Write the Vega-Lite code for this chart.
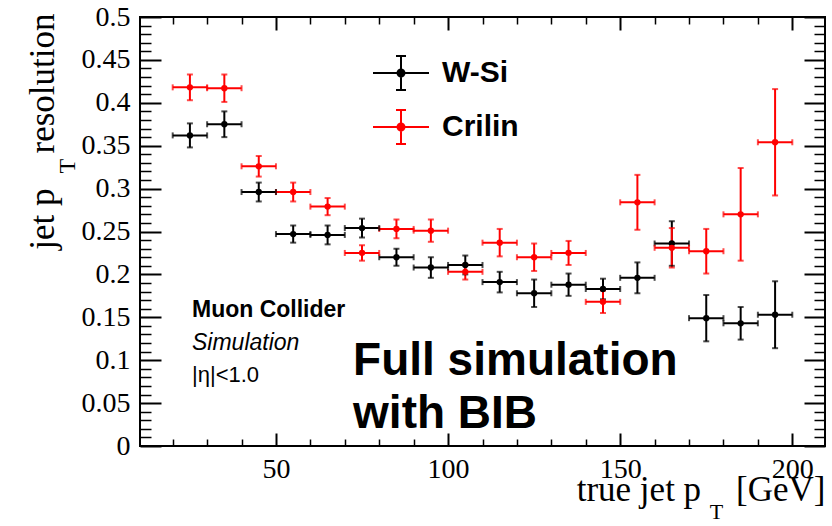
{
  "$schema": "https://vega.github.io/schema/vega-lite/v6.json",
  "width": 685,
  "height": 429,
  "autosize": {"type": "none"},
  "padding": {"left": 140, "top": 17, "right": 7, "bottom": 80},
  "background": "white",
  "config": {
    "view": {"stroke": "#000", "strokeWidth": 2},
    "axis": {"domain": false, "grid": false, "tickColor": "#000", "tickWidth": 1.5, "labelColor": "#000", "titleColor": "#000", "labelFont": "Liberation Serif", "titleFont": "Liberation Serif", "labelFontSize": 28, "titleFontSize": 35, "titleFontWeight": "normal"}
  },
  "data": {"values": [
    {"s": "W-Si", "pt": 25, "ptlo": 20, "pthi": 30, "res": 0.362, "lo": 0.348, "hi": 0.376},
    {"s": "W-Si", "pt": 35, "ptlo": 30, "pthi": 40, "res": 0.375, "lo": 0.360, "hi": 0.390},
    {"s": "W-Si", "pt": 45, "ptlo": 40, "pthi": 50, "res": 0.296, "lo": 0.285, "hi": 0.307},
    {"s": "W-Si", "pt": 55, "ptlo": 50, "pthi": 60, "res": 0.247, "lo": 0.237, "hi": 0.257},
    {"s": "W-Si", "pt": 65, "ptlo": 60, "pthi": 70, "res": 0.246, "lo": 0.235, "hi": 0.257},
    {"s": "W-Si", "pt": 75, "ptlo": 70, "pthi": 80, "res": 0.254, "lo": 0.243, "hi": 0.265},
    {"s": "W-Si", "pt": 85, "ptlo": 80, "pthi": 90, "res": 0.220, "lo": 0.210, "hi": 0.230},
    {"s": "W-Si", "pt": 95, "ptlo": 90, "pthi": 100, "res": 0.208, "lo": 0.196, "hi": 0.220},
    {"s": "W-Si", "pt": 105, "ptlo": 100, "pthi": 110, "res": 0.211, "lo": 0.200, "hi": 0.222},
    {"s": "W-Si", "pt": 115, "ptlo": 110, "pthi": 120, "res": 0.191, "lo": 0.179, "hi": 0.203},
    {"s": "W-Si", "pt": 125, "ptlo": 120, "pthi": 130, "res": 0.178, "lo": 0.162, "hi": 0.194},
    {"s": "W-Si", "pt": 135, "ptlo": 130, "pthi": 140, "res": 0.188, "lo": 0.175, "hi": 0.201},
    {"s": "W-Si", "pt": 145, "ptlo": 140, "pthi": 150, "res": 0.183, "lo": 0.171, "hi": 0.195},
    {"s": "W-Si", "pt": 155, "ptlo": 150, "pthi": 160, "res": 0.196, "lo": 0.178, "hi": 0.214},
    {"s": "W-Si", "pt": 165, "ptlo": 160, "pthi": 170, "res": 0.236, "lo": 0.210, "hi": 0.262},
    {"s": "W-Si", "pt": 175, "ptlo": 170, "pthi": 180, "res": 0.149, "lo": 0.122, "hi": 0.176},
    {"s": "W-Si", "pt": 185, "ptlo": 180, "pthi": 190, "res": 0.143, "lo": 0.124, "hi": 0.162},
    {"s": "W-Si", "pt": 195, "ptlo": 190, "pthi": 200, "res": 0.153, "lo": 0.114, "hi": 0.192},
    {"s": "Crilin", "pt": 25, "ptlo": 20, "pthi": 30, "res": 0.418, "lo": 0.403, "hi": 0.433},
    {"s": "Crilin", "pt": 35, "ptlo": 30, "pthi": 40, "res": 0.417, "lo": 0.401, "hi": 0.433},
    {"s": "Crilin", "pt": 45, "ptlo": 40, "pthi": 50, "res": 0.326, "lo": 0.314, "hi": 0.338},
    {"s": "Crilin", "pt": 55, "ptlo": 50, "pthi": 60, "res": 0.296, "lo": 0.285, "hi": 0.307},
    {"s": "Crilin", "pt": 65, "ptlo": 60, "pthi": 70, "res": 0.279, "lo": 0.269, "hi": 0.289},
    {"s": "Crilin", "pt": 75, "ptlo": 70, "pthi": 80, "res": 0.225, "lo": 0.216, "hi": 0.234},
    {"s": "Crilin", "pt": 85, "ptlo": 80, "pthi": 90, "res": 0.253, "lo": 0.242, "hi": 0.264},
    {"s": "Crilin", "pt": 95, "ptlo": 90, "pthi": 100, "res": 0.251, "lo": 0.238, "hi": 0.264},
    {"s": "Crilin", "pt": 105, "ptlo": 100, "pthi": 110, "res": 0.203, "lo": 0.194, "hi": 0.212},
    {"s": "Crilin", "pt": 115, "ptlo": 110, "pthi": 120, "res": 0.237, "lo": 0.221, "hi": 0.253},
    {"s": "Crilin", "pt": 125, "ptlo": 120, "pthi": 130, "res": 0.220, "lo": 0.204, "hi": 0.236},
    {"s": "Crilin", "pt": 135, "ptlo": 130, "pthi": 140, "res": 0.225, "lo": 0.211, "hi": 0.239},
    {"s": "Crilin", "pt": 145, "ptlo": 140, "pthi": 150, "res": 0.168, "lo": 0.155, "hi": 0.181},
    {"s": "Crilin", "pt": 155, "ptlo": 150, "pthi": 160, "res": 0.284, "lo": 0.252, "hi": 0.316},
    {"s": "Crilin", "pt": 165, "ptlo": 160, "pthi": 170, "res": 0.231, "lo": 0.208, "hi": 0.254},
    {"s": "Crilin", "pt": 175, "ptlo": 170, "pthi": 180, "res": 0.227, "lo": 0.201, "hi": 0.253},
    {"s": "Crilin", "pt": 185, "ptlo": 180, "pthi": 190, "res": 0.270, "lo": 0.216, "hi": 0.324},
    {"s": "Crilin", "pt": 195, "ptlo": 190, "pthi": 200, "res": 0.354, "lo": 0.292, "hi": 0.416}
  ]},
  "resolve": {"scale": {"x": "shared", "y": "shared", "color": "shared"}, "axis": {"x": "independent", "y": "independent"}, "legend": {"color": "shared"}},
  "layer": [
    {
      "mark": {"type": "rule", "strokeWidth": 2},
      "encoding": {
        "x": {"field": "ptlo", "type": "quantitative", "scale": {"domain": [10.5, 209.5], "nice": false, "zero": false},
          "axis": {"orient": "bottom", "values": [50, 100, 150, 200], "tickSize": -13, "tickWidth": 2, "labelPadding": 22, "labelFlush": false, "labelOverlap": false,
            "title": "true jet p\u00a0\u00a0\u00a0\u00a0[GeV]", "titleAnchor": null, "titleAlign": "right", "titleBaseline": "alphabetic", "titleX": 685, "titleY": 54}},
        "x2": {"field": "pthi"},
        "y": {"field": "res", "type": "quantitative", "scale": {"domain": [0, 0.5], "nice": false, "zero": false},
          "axis": {"orient": "left", "values": [0, 0.05, 0.1, 0.15, 0.2, 0.25, 0.3, 0.35, 0.4, 0.45, 0.5], "format": "~g", "tickSize": -21, "tickWidth": 2, "labelPadding": 31, "labelFlush": false, "labelOverlap": false,
            "title": "jet p\u00a0\u00a0\u00a0\u00a0resolution", "titleAnchor": null, "titleAngle": 270, "titleAlign": "right", "titleBaseline": "alphabetic", "titleX": -87, "titleY": -4}},
        "color": {"field": "s", "type": "nominal", "scale": {"domain": ["W-Si", "Crilin"], "range": ["#000000", "#ff0000"]}}
      }
    },
    {
      "mark": {"type": "rule", "strokeWidth": 2},
      "encoding": {
        "x": {"field": "pt", "type": "quantitative", "axis": {"orient": "bottom", "values": [20, 30, 40, 60, 70, 80, 90, 110, 120, 130, 140, 160, 170, 180, 190], "tickSize": -7, "labels": false, "title": null}},
        "y": {"field": "lo", "type": "quantitative", "axis": {"orient": "left", "values": [0.01, 0.02, 0.03, 0.04, 0.06, 0.07, 0.08, 0.09, 0.11, 0.12, 0.13, 0.14, 0.16, 0.17, 0.18, 0.19, 0.21, 0.22, 0.23, 0.24, 0.26, 0.27, 0.28, 0.29, 0.31, 0.32, 0.33, 0.34, 0.36, 0.37, 0.38, 0.39, 0.41, 0.42, 0.43, 0.44, 0.46, 0.47, 0.48, 0.49], "tickSize": -11, "labels": false, "title": null}},
        "y2": {"field": "hi"},
        "color": {"field": "s", "type": "nominal"}
      }
    },
    {
      "mark": {"type": "tick", "orient": "horizontal", "size": 6, "thickness": 2},
      "encoding": {
        "x": {"field": "pt", "type": "quantitative", "axis": {"orient": "top", "values": [50, 100, 150, 200], "tickSize": -13, "tickWidth": 2, "labels": false, "title": null}},
        "y": {"field": "hi", "type": "quantitative", "axis": {"orient": "right", "values": [0, 0.05, 0.1, 0.15, 0.2, 0.25, 0.3, 0.35, 0.4, 0.45, 0.5], "tickSize": -21, "tickWidth": 2, "labels": false, "title": null}},
        "color": {"field": "s", "type": "nominal"}
      }
    },
    {
      "mark": {"type": "tick", "orient": "horizontal", "size": 6, "thickness": 2},
      "encoding": {
        "x": {"field": "pt", "type": "quantitative", "axis": {"orient": "top", "values": [20, 30, 40, 60, 70, 80, 90, 110, 120, 130, 140, 160, 170, 180, 190], "tickSize": -7, "labels": false, "title": null}},
        "y": {"field": "lo", "type": "quantitative", "axis": {"orient": "right", "values": [0.01, 0.02, 0.03, 0.04, 0.06, 0.07, 0.08, 0.09, 0.11, 0.12, 0.13, 0.14, 0.16, 0.17, 0.18, 0.19, 0.21, 0.22, 0.23, 0.24, 0.26, 0.27, 0.28, 0.29, 0.31, 0.32, 0.33, 0.34, 0.36, 0.37, 0.38, 0.39, 0.41, 0.42, 0.43, 0.44, 0.46, 0.47, 0.48, 0.49], "tickSize": -11, "labels": false, "title": null}},
        "color": {"field": "s", "type": "nominal"}
      }
    },
    {
      "mark": {"type": "tick", "orient": "vertical", "size": 6, "thickness": 2},
      "encoding": {
        "x": {"field": "ptlo", "type": "quantitative", "axis": null},
        "y": {"field": "res", "type": "quantitative", "axis": null},
        "color": {"field": "s", "type": "nominal"}
      }
    },
    {
      "mark": {"type": "tick", "orient": "vertical", "size": 6, "thickness": 2},
      "encoding": {
        "x": {"field": "pthi", "type": "quantitative", "axis": null},
        "y": {"field": "res", "type": "quantitative", "axis": null},
        "color": {"field": "s", "type": "nominal"}
      }
    },
    {
      "mark": {"type": "point", "filled": true, "size": 40, "opacity": 1},
      "encoding": {
        "x": {"field": "pt", "type": "quantitative", "axis": null},
        "y": {"field": "res", "type": "quantitative", "axis": null},
        "color": {"field": "s", "type": "nominal",
          "legend": {"orient": "none", "legendX": 235, "legendY": 30, "title": null, "padding": 0,
            "symbolType": "M-1.12,0H1.12M0,-0.68V0.68M-0.2,-0.68H0.2M-0.2,0.68H0.2M0.14,0A0.14,0.14,0,1,1,-0.14,0A0.14,0.14,0,1,1,0.14,0Z",
            "symbolSize": 2500, "symbolStrokeWidth": 2, "symbolOpacity": 1,
            "labelFont": "Liberation Sans", "labelFontWeight": "bold", "labelFontSize": 30, "labelOffset": 15, "rowPadding": 7, "labelColor": "#000", "labelLimit": 300,
            "encode": {"symbols": {"update": {"stroke": {"scale": "color", "field": "value"}, "fill": {"scale": "color", "field": "value"}, "strokeWidth": {"value": 2}}}}}}
      }
    },
    {
      "data": {"values": [{}]},
      "mark": {"type": "text", "text": "Muon Collider", "font": "Liberation Sans", "fontWeight": "bold", "fontSize": 23, "align": "left", "baseline": "alphabetic", "color": "#000"},
      "encoding": {"x": {"datum": 25.6, "type": "quantitative", "axis": null}, "y": {"datum": 0.150, "type": "quantitative", "axis": null}}
    },
    {
      "data": {"values": [{}]},
      "mark": {"type": "text", "text": "Simulation", "font": "Liberation Sans", "fontStyle": "italic", "fontSize": 23, "align": "left", "baseline": "alphabetic", "color": "#000"},
      "encoding": {"x": {"datum": 25.6, "type": "quantitative", "axis": null}, "y": {"datum": 0.1115, "type": "quantitative", "axis": null}}
    },
    {
      "data": {"values": [{}]},
      "mark": {"type": "text", "text": "|η|<1.0", "font": "Liberation Sans", "fontSize": 22, "align": "left", "baseline": "alphabetic", "color": "#000"},
      "encoding": {"x": {"datum": 25.6, "type": "quantitative", "axis": null}, "y": {"datum": 0.0742, "type": "quantitative", "axis": null}}
    },
    {
      "data": {"values": [{}]},
      "mark": {"type": "text", "text": "Full simulation", "font": "Liberation Sans", "fontWeight": "bold", "fontSize": 46, "align": "left", "baseline": "alphabetic", "color": "#000"},
      "encoding": {"x": {"datum": 72.4, "type": "quantitative", "axis": null}, "y": {"datum": 0.0828, "type": "quantitative", "axis": null}}
    },
    {
      "data": {"values": [{}]},
      "mark": {"type": "text", "text": "with BIB", "font": "Liberation Sans", "fontWeight": "bold", "fontSize": 46, "align": "left", "baseline": "alphabetic", "color": "#000"},
      "encoding": {"x": {"datum": 72.4, "type": "quantitative", "axis": null}, "y": {"datum": 0.0215, "type": "quantitative", "axis": null}}
    },
    {
      "data": {"values": [{}]},
      "mark": {"type": "text", "text": "T", "font": "Liberation Serif", "fontSize": 24, "angle": 270, "align": "center", "baseline": "middle", "color": "#000"},
      "encoding": {"x": {"datum": -10.4, "type": "quantitative", "axis": null}, "y": {"datum": 0.326, "type": "quantitative", "axis": null}}
    },
    {
      "data": {"values": [{}]},
      "mark": {"type": "text", "text": "T", "font": "Liberation Serif", "fontSize": 22, "align": "center", "baseline": "middle", "color": "#000"},
      "encoding": {"x": {"datum": 178.0, "type": "quantitative", "axis": null}, "y": {"datum": -0.0775, "type": "quantitative", "axis": null}}
    }
  ]
}
